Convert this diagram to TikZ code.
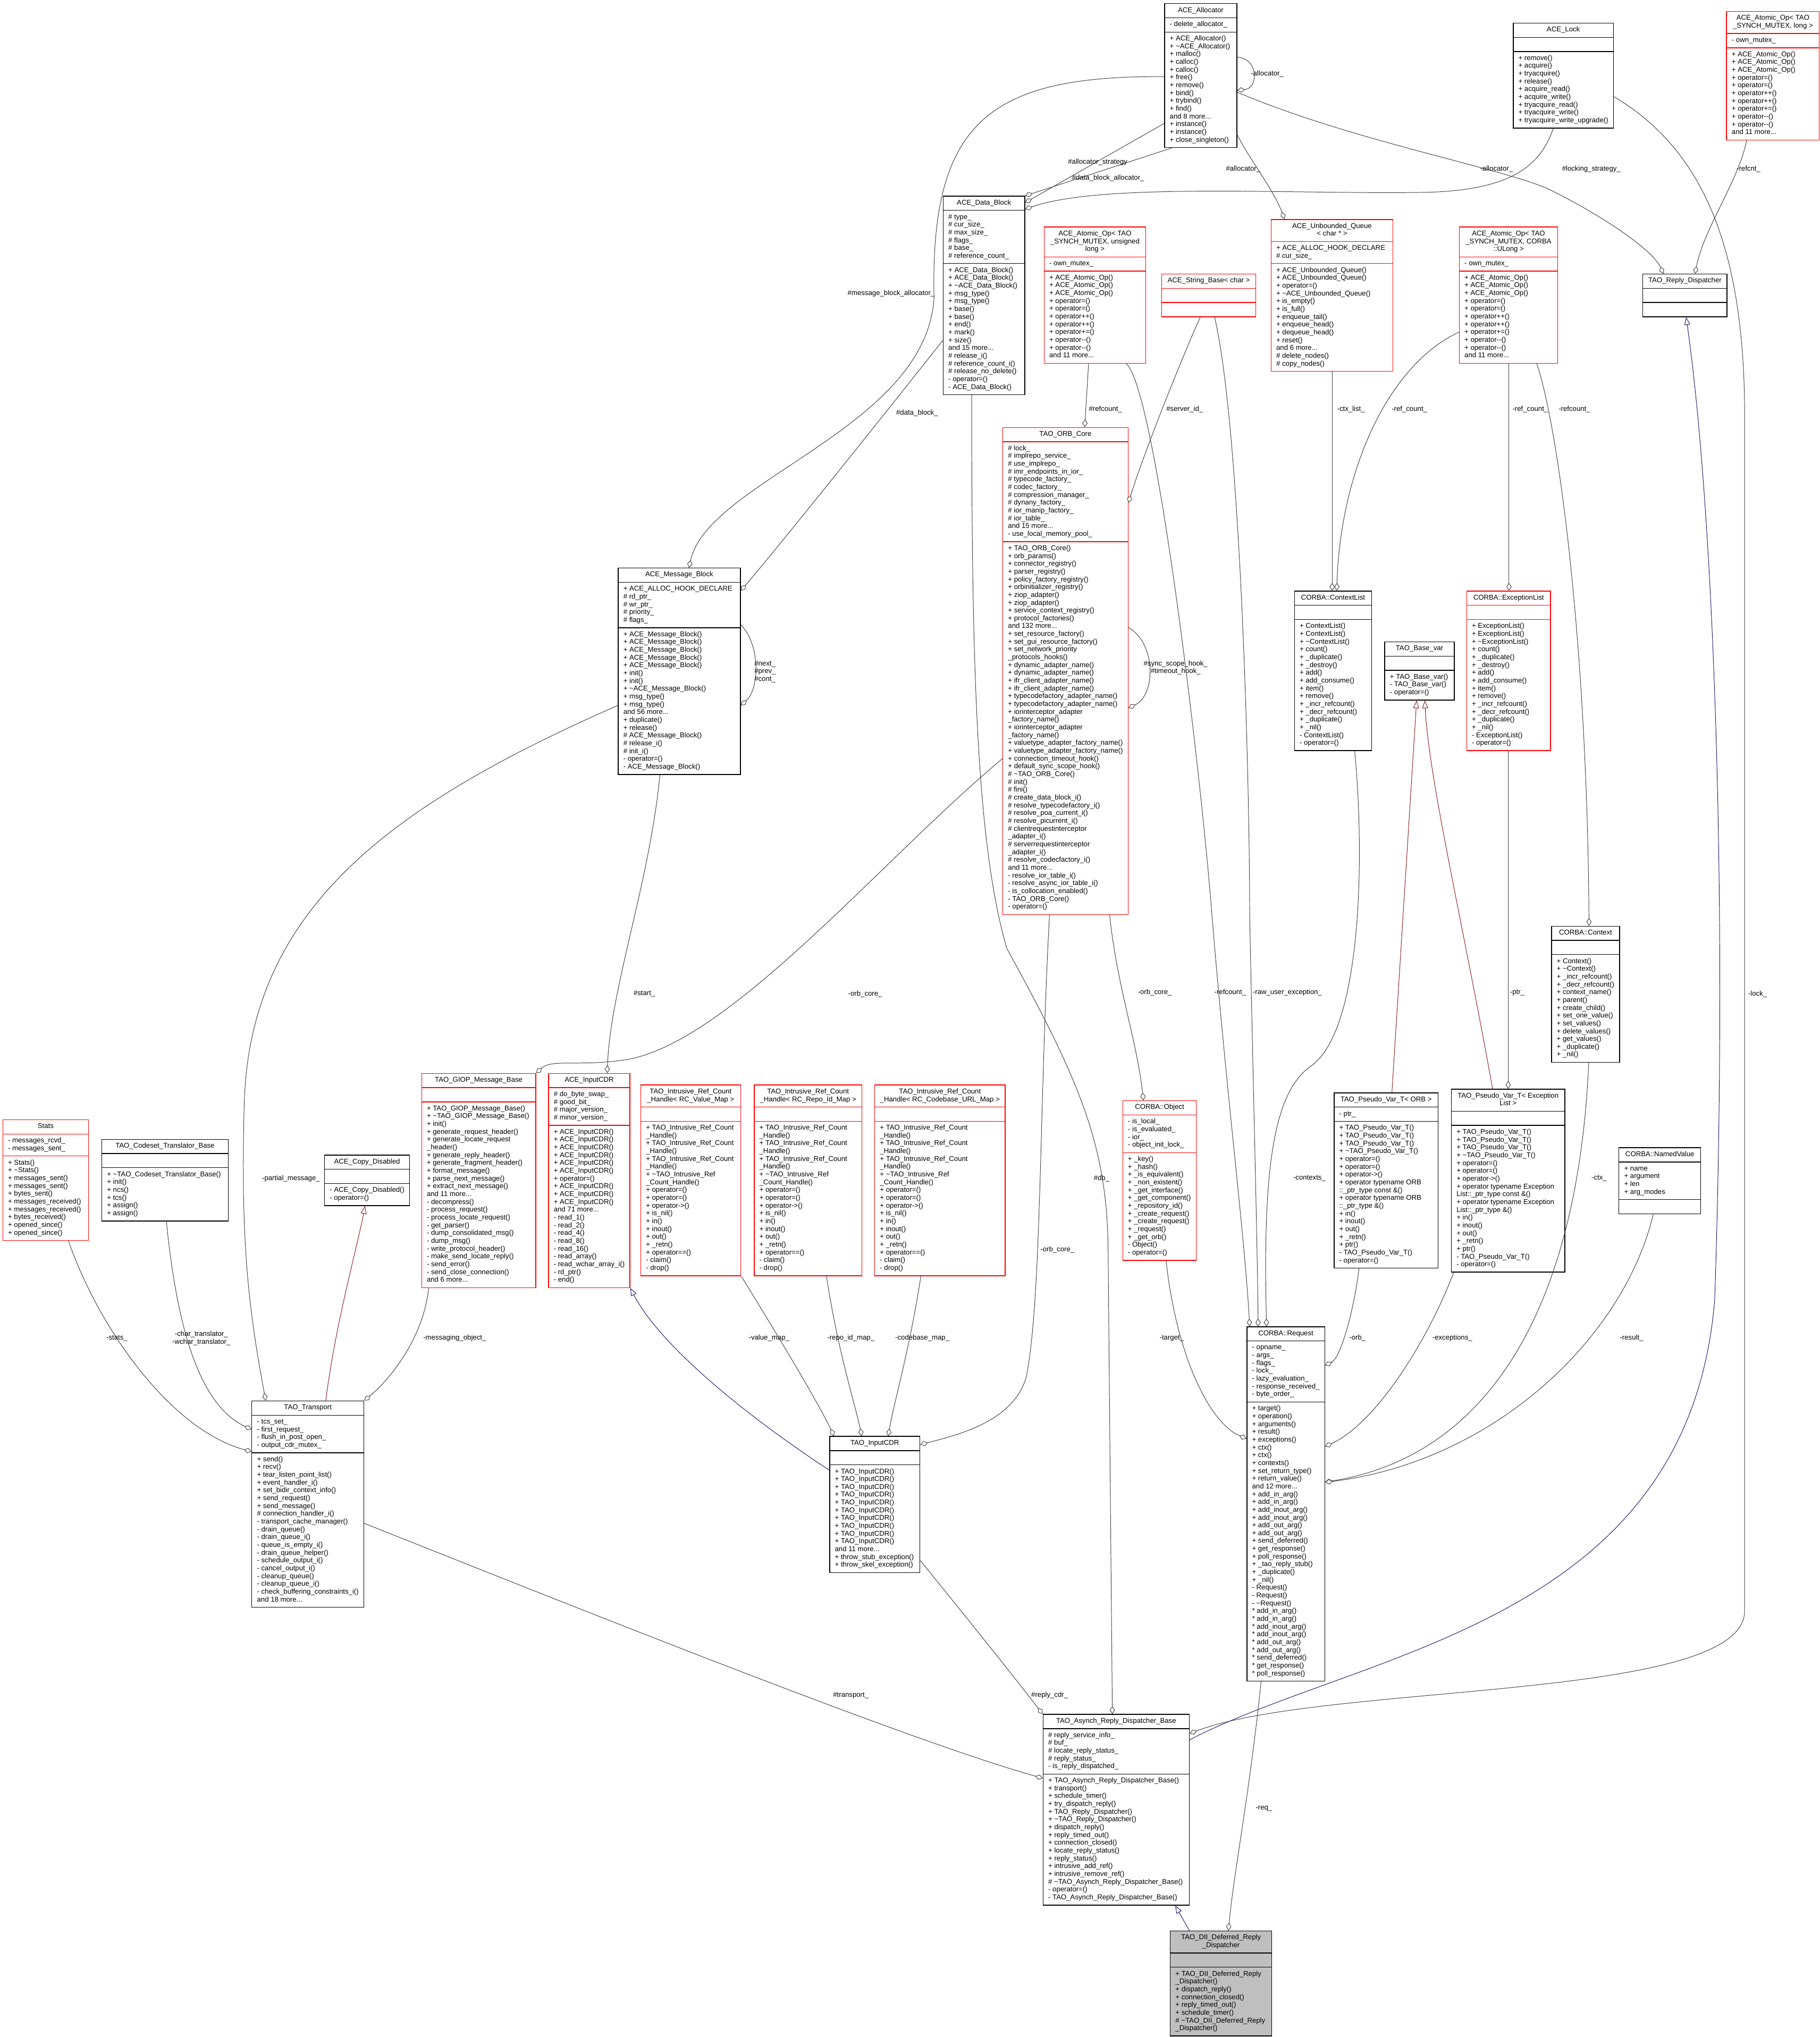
\documentclass[tikz,border=0pt]{standalone}
\usepackage{fontspec}
\setmainfont{Liberation Sans}
\usetikzlibrary{shapes.multipart,arrows.meta}
\definecolor{edgegray}{HTML}{404040}
\definecolor{inhblue}{HTML}{191970}
\definecolor{inhred}{HTML}{8B1A1A}
\definecolor{boxred}{HTML}{FF0000}
\definecolor{diigray}{HTML}{BFBFBF}
\newcommand\fs{\fontsize{5.4}{6}\selectfont}
\newcommand\TL[1]{\begin{tabular}{@{}l@{}}#1\end{tabular}}
\newcommand\TC[1]{\begin{tabular}{@{}c@{}}#1\end{tabular}}
\newcommand\tld{\textasciitilde}
\newcommand\cls[7][]{\node[cls,#1,minimum width=#4pt] (#2) at (#3) {\TC{\strut #5}\nodepart{second}\TL{\strut #6}\nodepart{third}\TL{\strut #7}};}
\tikzset{
  cls/.style={rectangle split, rectangle split parts=3, rectangle split part align={center,left,left},
    draw=black, line width=0.55pt, inner xsep=4pt, inner ysep=2.2pt, anchor=north west, font=\fs, fill=white},
  redbox/.style={draw=boxred},
  diibox/.style={fill=diigray},
  agg/.style={draw=edgegray, line width=0.4pt, -{Diamond[fill=white,length=6pt,width=4pt]}},
  inhb/.style={draw=inhblue, line width=0.4pt, -{Triangle[fill=white,length=6pt,width=4.5pt]}},
  inhr/.style={draw=inhred, line width=0.4pt, -{Triangle[fill=white,length=6pt,width=4.5pt]}},
  lbl/.style={font=\fs, inner sep=0pt, align=center}
}
\begin{document}
\catcode`\_=12
\begin{tikzpicture}[x=1pt,y=-1pt]
\fill[white] (0,0) rectangle (1401,1568);
\useasboundingbox (0,0) rectangle (1401,1568);

% ---------------- classes ----------------
\cls{alloc}{896.2,2.5}{55.7}{ACE_Allocator}{- delete_allocator_}{+ ACE_Allocator()\\+ \tld{}ACE_Allocator()\\+ malloc()\\+ calloc()\\+ calloc()\\+ free()\\+ remove()\\+ bind()\\+ trybind()\\+ find()\\and 8 more...\\+ instance()\\+ instance()\\+ close_singleton()}

\cls{lock}{1164.6,17.5}{76.9}{ACE_Lock}{}{+ remove()\\+ acquire()\\+ tryacquire()\\+ release()\\+ acquire_read()\\+ acquire_write()\\+ tryacquire_read()\\+ tryacquire_write()\\+ tryacquire_write_upgrade()}

\cls[redbox]{atomlong}{1328.8,8.6}{71.4}{ACE_Atomic_Op< TAO\\_SYNCH_MUTEX, long >}{- own_mutex_}{+ ACE_Atomic_Op()\\+ ACE_Atomic_Op()\\+ ACE_Atomic_Op()\\+ operator=()\\+ operator=()\\+ operator++()\\+ operator++()\\+ operator+=()\\+ operator-{}-()\\+ operator-{}-()\\and 11 more...}

\cls{datablock}{725.8,150.7}{62.8}{ACE_Data_Block}{\# type_\\\# cur_size_\\\# max_size_\\\# flags_\\\# base_\\\# reference_count_}{+ ACE_Data_Block()\\+ ACE_Data_Block()\\+ \tld{}ACE_Data_Block()\\+ msg_type()\\+ msg_type()\\+ base()\\+ base()\\+ end()\\+ mark()\\+ size()\\and 15 more...\\\# release_i()\\\# reference_count_i()\\\# release_no_delete()\\- operator=()\\- ACE_Data_Block()}

\cls[redbox]{atomul}{803.5,174.5}{78.2}{ACE_Atomic_Op< TAO\\_SYNCH_MUTEX, unsigned\\ long >}{- own_mutex_}{+ ACE_Atomic_Op()\\+ ACE_Atomic_Op()\\+ ACE_Atomic_Op()\\+ operator=()\\+ operator=()\\+ operator++()\\+ operator++()\\+ operator+=()\\+ operator-{}-()\\+ operator-{}-()\\and 11 more...}

\cls[redbox]{strbase}{893.9,210.7}{72.6}{ACE_String_Base< char >}{}{}

\cls[redbox]{uqueue}{978.2,168.7}{93.8}{ACE_Unbounded_Queue\\< char * >}{+ ACE_ALLOC_HOOK_DECLARE\\\# cur_size_}{+ ACE_Unbounded_Queue()\\+ ACE_Unbounded_Queue()\\+ operator=()\\+ \tld{}ACE_Unbounded_Queue()\\+ is_empty()\\+ is_full()\\+ enqueue_tail()\\+ enqueue_head()\\+ dequeue_head()\\+ reset()\\and 6 more...\\\# delete_nodes()\\\# copy_nodes()}

\cls[redbox]{atomulong}{1123.1,174.5}{75.8}{ACE_Atomic_Op< TAO\\_SYNCH_MUTEX, CORBA\\::ULong >}{- own_mutex_}{+ ACE_Atomic_Op()\\+ ACE_Atomic_Op()\\+ ACE_Atomic_Op()\\+ operator=()\\+ operator=()\\+ operator++()\\+ operator++()\\+ operator+=()\\+ operator-{}-()\\+ operator-{}-()\\and 11 more...}

\cls{replydisp}{1264.4,210.7}{64.8}{TAO_Reply_Dispatcher}{}{}

\cls[redbox]{orbcore}{771.7,328.8}{95.8}{TAO_ORB_Core}{\# lock_\\\# implrepo_service_\\\# use_implrepo_\\\# imr_endpoints_in_ior_\\\# typecode_factory_\\\# codec_factory_\\\# compression_manager_\\\# dynany_factory_\\\# ior_manip_factory_\\\# ior_table_\\and 15 more...\\- use_local_memory_pool_}{+ TAO_ORB_Core()\\+ orb_params()\\+ connector_registry()\\+ parser_registry()\\+ policy_factory_registry()\\+ orbinitializer_registry()\\+ ziop_adapter()\\+ ziop_adapter()\\+ service_context_registry()\\+ protocol_factories()\\and 132 more...\\+ set_resource_factory()\\+ set_gui_resource_factory()\\+ set_network_priority\\_protocols_hooks()\\+ dynamic_adapter_name()\\+ dynamic_adapter_name()\\+ ifr_client_adapter_name()\\+ ifr_client_adapter_name()\\+ typecodefactory_adapter_name()\\+ typecodefactory_adapter_name()\\+ iorinterceptor_adapter\\_factory_name()\\+ iorinterceptor_adapter\\_factory_name()\\+ valuetype_adapter_factory_name()\\+ valuetype_adapter_factory_name()\\+ connection_timeout_hook()\\+ default_sync_scope_hook()\\\# \tld{}TAO_ORB_Core()\\\# init()\\\# fini()\\\# create_data_block_i()\\\# resolve_typecodefactory_i()\\\# resolve_poa_current_i()\\\# resolve_picurrent_i()\\\# clientrequestinterceptor\\_adapter_i()\\\# serverrequestinterceptor\\_adapter_i()\\\# resolve_codecfactory_i()\\and 11 more...\\- resolve_ior_table_i()\\- resolve_async_ior_table_i()\\- is_collocation_enabled()\\- TAO_ORB_Core()\\- operator=()}

\cls{msgblock}{475.6,437}{94.1}{ACE_Message_Block}{+ ACE_ALLOC_HOOK_DECLARE\\\# rd_ptr_\\\# wr_ptr_\\\# priority_\\\# flags_}{+ ACE_Message_Block()\\+ ACE_Message_Block()\\+ ACE_Message_Block()\\+ ACE_Message_Block()\\+ ACE_Message_Block()\\+ init()\\+ init()\\+ \tld{}ACE_Message_Block()\\+ msg_type()\\+ msg_type()\\and 56 more...\\+ duplicate()\\+ release()\\\# ACE_Message_Block()\\\# release_i()\\\# init_i()\\- operator=()\\- ACE_Message_Block()}

\cls{ctxlist}{996.2,454.7}{59.4}{CORBA::ContextList}{}{+ ContextList()\\+ ContextList()\\+ \tld{}ContextList()\\+ count()\\+ _duplicate()\\+ _destroy()\\+ add()\\+ add_consume()\\+ item()\\+ remove()\\+ _incr_refcount()\\+ _decr_refcount()\\+ _duplicate()\\+ _nil()\\- ContextList()\\- operator=()}

\cls{basevar}{1065.7,493.8}{53.5}{TAO_Base_var}{}{+ TAO_Base_var()\\- TAO_Base_var()\\- operator=()}

\cls[redbox]{exclist}{1128.8,454.7}{64.5}{CORBA::ExceptionList}{}{+ ExceptionList()\\+ ExceptionList()\\+ \tld{}ExceptionList()\\+ count()\\+ _duplicate()\\+ _destroy()\\+ add()\\+ add_consume()\\+ item()\\+ remove()\\+ _incr_refcount()\\+ _decr_refcount()\\+ _duplicate()\\+ _nil()\\- ExceptionList()\\- operator=()}

\cls{context}{1194.1,712.6}{52.4}{CORBA::Context}{}{+ Context()\\+ \tld{}Context()\\+ _incr_refcount()\\+ _decr_refcount()\\+ context_name()\\+ parent()\\+ create_child()\\+ set_one_value()\\+ set_values()\\+ delete_values()\\+ get_values()\\+ _duplicate()\\+ _nil()}

\cls[redbox]{stats}{1.9,861.7}{66}{Stats}{- messages_rcvd_\\- messages_sent_}{+ Stats()\\+ \tld{}Stats()\\+ messages_sent()\\+ messages_sent()\\+ bytes_sent()\\+ messages_received()\\+ messages_received()\\+ bytes_received()\\+ opened_since()\\+ opened_since()}

\cls{codeset}{78.1,876.7}{97.3}{TAO_Codeset_Translator_Base}{}{+ \tld{}TAO_Codeset_Translator_Base()\\+ init()\\+ ncs()\\+ tcs()\\+ assign()\\+ assign()}

\cls{copydis}{249.5,888.9}{65.5}{ACE_Copy_Disabled}{}{- ACE_Copy_Disabled()\\- operator=()}

\cls[redbox]{giop}{324.3,826}{87.9}{TAO_GIOP_Message_Base}{}{+ TAO_GIOP_Message_Base()\\+ \tld{}TAO_GIOP_Message_Base()\\+ init()\\+ generate_request_header()\\+ generate_locate_request\\_header()\\+ generate_reply_header()\\+ generate_fragment_header()\\+ format_message()\\+ parse_next_message()\\+ extract_next_message()\\and 11 more...\\- decompress()\\- process_request()\\- process_locate_request()\\- get_parser()\\- dump_consolidated_msg()\\- dump_msg()\\- write_protocol_header()\\- make_send_locate_reply()\\- send_error()\\- send_close_connection()\\and 6 more...}

\cls[redbox]{inputcdr}{422,826}{61.4}{ACE_InputCDR}{\# do_byte_swap_\\\# good_bit_\\\# major_version_\\\# minor_version_}{+ ACE_InputCDR()\\+ ACE_InputCDR()\\+ ACE_InputCDR()\\+ ACE_InputCDR()\\+ ACE_InputCDR()\\+ ACE_InputCDR()\\+ operator=()\\+ ACE_InputCDR()\\+ ACE_InputCDR()\\+ ACE_InputCDR()\\and 71 more...\\- read_1()\\- read_2()\\- read_4()\\- read_8()\\- read_16()\\- read_array()\\- read_wchar_array_i()\\- rd_ptr()\\- end()}

\cls[redbox]{rcvalue}{493,834.9}{76.8}{TAO_Intrusive_Ref_Count\\_Handle< RC_Value_Map >}{}{+ TAO_Intrusive_Ref_Count\\_Handle()\\+ TAO_Intrusive_Ref_Count\\_Handle()\\+ TAO_Intrusive_Ref_Count\\_Handle()\\+ \tld{}TAO_Intrusive_Ref\\_Count_Handle()\\+ operator=()\\+ operator=()\\+ operator->()\\+ is_nil()\\+ in()\\+ inout()\\+ out()\\+ _retn()\\+ operator==()\\- claim()\\- drop()}

\cls[redbox]{rcrepo}{580.3,834.9}{82.9}{TAO_Intrusive_Ref_Count\\_Handle< RC_Repo_Id_Map >}{}{+ TAO_Intrusive_Ref_Count\\_Handle()\\+ TAO_Intrusive_Ref_Count\\_Handle()\\+ TAO_Intrusive_Ref_Count\\_Handle()\\+ \tld{}TAO_Intrusive_Ref\\_Count_Handle()\\+ operator=()\\+ operator=()\\+ operator->()\\+ is_nil()\\+ in()\\+ inout()\\+ out()\\+ _retn()\\+ operator==()\\- claim()\\- drop()}

\cls[redbox]{rccode}{673.1,834.9}{100.4}{TAO_Intrusive_Ref_Count\\_Handle< RC_Codebase_URL_Map >}{}{+ TAO_Intrusive_Ref_Count\\_Handle()\\+ TAO_Intrusive_Ref_Count\\_Handle()\\+ TAO_Intrusive_Ref_Count\\_Handle()\\+ \tld{}TAO_Intrusive_Ref\\_Count_Handle()\\+ operator=()\\+ operator=()\\+ operator->()\\+ is_nil()\\+ in()\\+ inout()\\+ out()\\+ _retn()\\+ operator==()\\- claim()\\- drop()}

\cls[redbox]{object}{864,847}{56.7}{CORBA::Object}{- is_local_\\- is_evaluated_\\- ior_\\- object_init_lock_}{+ _key()\\+ _hash()\\+ _is_equivalent()\\+ _non_existent()\\+ _get_interface()\\+ _get_component()\\+ _repository_id()\\+ _create_request()\\+ _create_request()\\+ _request()\\+ _get_orb()\\- Object()\\- operator=()}

\cls{pvorb}{1026.7,841}{80.1}{TAO_Pseudo_Var_T< ORB >}{- ptr_}{+ TAO_Pseudo_Var_T()\\+ TAO_Pseudo_Var_T()\\+ TAO_Pseudo_Var_T()\\+ \tld{}TAO_Pseudo_Var_T()\\+ operator=()\\+ operator=()\\+ operator->()\\+ operator typename ORB\\::_ptr_type const \&()\\+ operator typename ORB\\::_ptr_type \&()\\+ in()\\+ inout()\\+ out()\\+ _retn()\\+ ptr()\\- TAO_Pseudo_Var_T()\\- operator=()}

\cls{pvexc}{1117,838.1}{87.3}{TAO_Pseudo_Var_T< Exception\\List >}{}{+ TAO_Pseudo_Var_T()\\+ TAO_Pseudo_Var_T()\\+ TAO_Pseudo_Var_T()\\+ \tld{}TAO_Pseudo_Var_T()\\+ operator=()\\+ operator=()\\+ operator->()\\+ operator typename Exception\\List::_ptr_type const \&()\\+ operator typename Exception\\List::_ptr_type \&()\\+ in()\\+ inout()\\+ out()\\+ _retn()\\+ ptr()\\- TAO_Pseudo_Var_T()\\- operator=()}

\cls{namedval}{1246,883.2}{63}{CORBA::NamedValue}{+ name\\+ argument\\+ len\\+ arg_modes}{}

\cls{transport}{193.6,1078.1}{86.2}{TAO_Transport}{- tcs_set_\\- first_request_\\- flush_in_post_open_\\- output_cdr_mutex_}{+ send()\\+ recv()\\+ tear_listen_point_list()\\+ event_handler_i()\\+ set_bidir_context_info()\\+ send_request()\\+ send_message()\\\# connection_handler_i()\\- transport_cache_manager()\\- drain_queue()\\- drain_queue_i()\\- queue_is_empty_i()\\- drain_queue_helper()\\- schedule_output_i()\\- cancel_output_i()\\- cleanup_queue()\\- cleanup_queue_i()\\- check_buffering_constraints_i()\\and 18 more...}

\cls{taoinput}{638.4,1105.4}{69.5}{TAO_InputCDR}{}{+ TAO_InputCDR()\\+ TAO_InputCDR()\\+ TAO_InputCDR()\\+ TAO_InputCDR()\\+ TAO_InputCDR()\\+ TAO_InputCDR()\\+ TAO_InputCDR()\\+ TAO_InputCDR()\\+ TAO_InputCDR()\\+ TAO_InputCDR()\\and 11 more...\\+ throw_stub_exception()\\+ throw_skel_exception()}

\cls{request}{959.6,1021}{59.6}{CORBA::Request}{- opname_\\- args_\\- flags_\\- lock_\\- lazy_evaluation_\\- response_received_\\- byte_order_}{+ target()\\+ operation()\\+ arguments()\\+ result()\\+ exceptions()\\+ ctx()\\+ ctx()\\+ contexts()\\+ set_return_type()\\+ return_value()\\and 12 more...\\+ add_in_arg()\\+ add_in_arg()\\+ add_inout_arg()\\+ add_inout_arg()\\+ add_out_arg()\\+ add_out_arg()\\+ send_deferred()\\+ get_response()\\+ poll_response()\\+ _tao_reply_stub()\\+ _duplicate()\\+ _nil()\\- Request()\\- Request()\\- \tld{}Request()\\{}* add_in_arg()\\{}* add_in_arg()\\{}* add_inout_arg()\\{}* add_inout_arg()\\{}* add_out_arg()\\{}* add_out_arg()\\{}* send_deferred()\\{}* get_response()\\{}* poll_response()}

\cls{asynch}{802.7,1319.4}{112.5}{TAO_Asynch_Reply_Dispatcher_Base}{\# reply_service_info_\\\# buf_\\\# locate_reply_status_\\\# reply_status_\\- is_reply_dispatched_}{+ TAO_Asynch_Reply_Dispatcher_Base()\\+ transport()\\+ schedule_timer()\\+ try_dispatch_reply()\\+ TAO_Reply_Dispatcher()\\+ \tld{}TAO_Reply_Dispatcher()\\+ dispatch_reply()\\+ reply_timed_out()\\+ connection_closed()\\+ locate_reply_status()\\+ reply_status()\\+ intrusive_add_ref()\\+ intrusive_remove_ref()\\\# \tld{}TAO_Asynch_Reply_Dispatcher_Base()\\- operator=()\\- TAO_Asynch_Reply_Dispatcher_Base()}

\cls[diibox]{dii}{900.6,1486.1}{78.1}{TAO_DII_Deferred_Reply\\_Dispatcher}{}{+ TAO_DII_Deferred_Reply\\_Dispatcher()\\+ dispatch_reply()\\+ connection_closed()\\+ reply_timed_out()\\+ schedule_timer()\\\# \tld{}TAO_DII_Deferred_Reply\\_Dispatcher()}

% ---------------- connectors ----------------
\draw[agg] (alloc.east |- 0,44) .. controls (969,45) and (969,68) .. (alloc.east |- 0,69.5);
\draw[agg] (alloc.east |- 0,71) .. controls (1040,108) and (1150,128) .. (1191,145) .. controls (1232,165) and (1272,192) .. (replydisp.north -| 1280.5,0);
\draw[agg] (alloc.west |- 0,95) -- (datablock.east |- 0,156);
\draw[agg] (alloc.south -| 902,0) -- (datablock.north east);
\draw[agg] (lock.south -| 1195.7,0) .. controls (1185,130) and (1160,146) .. (1100,148) .. controls (1000,150) and (850,140) .. (datablock.east |- 0,161);
\draw[agg] (alloc.east |- 0,103.6) .. controls (960,120) and (980,145) .. (uqueue.north -| 988.8,0);
\draw[agg] (atomlong.south -| 1344.6,0) .. controls (1338,140) and (1312,175) .. (replydisp.north -| 1304.8,0);
\draw[agg] (lock.east |- 0,74.3) .. controls (1305,112) and (1343,180) .. (1343,320) -- (1343,1240) .. controls (1343,1310) and (1020,1295) .. (asynch.east |- 0,1334.4);
\draw[inhb] (asynch.east |- 0,1339.2) .. controls (1050,1270) and (1300,1250) .. (1320,1000) .. controls (1330,700) and (1320,400) .. (replydisp.south -| 1298,0);
\draw[agg] (datablock.west |- 0,262) .. controls (680,320) and (600,420) .. (msgblock.east |- 0,454.7);
\draw[agg] (alloc.west |- 0,59) .. controls (760,58) and (716,95) .. (719,230) .. controls (712,330) and (545,370) .. (msgblock.north -| 530.4,0);
\draw[agg] (atomul.south -| 838,0) -- (orbcore.north -| 835,0);
\draw[agg] (strbase.south -| 924,0) .. controls (912,270) and (880,350) .. (orbcore.east |- 0,387);
\draw[agg] (orbcore.east |- 0,483) .. controls (890,495) and (890,535) .. (orbcore.east |- 0,545);
\draw[agg] (msgblock.east |- 0,481) .. controls (585,495) and (585,530) .. (msgblock.east |- 0,543);
\draw[agg] (msgblock.south -| 508,0) .. controls (500,680) and (470,760) .. (inputcdr.north -| 467.4,0);
\draw[agg] (orbcore.west |- 0,584) .. controls (680,660) and (560,805) .. (480,816) .. controls (445,821) and (425,815) .. (giop.north east);
\draw[agg] (orbcore.south -| 854.2,0) .. controls (860,760) and (875,800) .. (object.north -| 880.2,0);
\draw[agg] (orbcore.south -| 807.9,0) .. controls (800,850) and (802,1000) .. (790,1060) .. controls (780,1095) and (735,1105) .. (taoinput.east |- 0,1112);
\draw[agg] (datablock.south -| 748,0) .. controls (748,520) and (752,650) .. (775,730) .. controls (830,830) and (852,880) .. (853,960) -- (asynch.north -| 856.3,0);
\draw[agg] (msgblock.west |- 0,543) .. controls (300,620) and (192,700) .. (188,850) .. controls (185,960) and (192,1010) .. (transport.north -| 204.5,0);
\draw[agg] (stats.south -| 52.7,0) .. controls (75,1020) and (130,1100) .. (transport.west |- 0,1117.4);
\draw[agg] (codeset.south -| 128.1,0) .. controls (135,1010) and (150,1080) .. (transport.west |- 0,1100.3);
\draw[inhr] (transport.north -| 250.8,0) .. controls (258,1020) and (275,960) .. (copydis.south -| 281,0);
\draw[agg] (giop.south -| 330,0) .. controls (326,1030) and (300,1062) .. (transport.north east);
\draw[inhb] (taoinput.west |- 0,1131.7) .. controls (560,1080) and (505,1030) .. (inputcdr.south east);
\draw[agg] (rcvalue.south -| 570.6,0) .. controls (600,1030) and (630,1080) .. (taoinput.north -| 642,0);
\draw[agg] (rcrepo.south -| 636.2,0) .. controls (645,1040) and (658,1080) .. (taoinput.north -| 663.4,0);
\draw[agg] (rccode.south -| 708.9,0) .. controls (700,1040) and (688,1080) .. (taoinput.north -| 683.8,0);
\draw[inhr] (pvorb.north -| 1071.5,0) -- (basevar.south -| 1090.5,0);
\draw[inhr] (pvexc.north -| 1149,0) .. controls (1125,705) and (1100,600) .. (basevar.south -| 1096.8,0);
\draw[agg] (exclist.south -| 1161,0) -- (pvexc.north -| 1161,0);
\draw[agg] (uqueue.south -| 1025.5,0) -- (ctxlist.north -| 1025.5,0);
\draw[agg] (atomulong.west |- 0,255.7) .. controls (1070,280) and (1032,360) .. (ctxlist.north -| 1029,0);
\draw[agg] (atomulong.south -| 1161.6,0) -- (exclist.north -| 1161.6,0);
\draw[agg] (atomulong.south -| 1183,0) .. controls (1200,330) and (1222,500) .. (context.north -| 1223.2,0);
\draw[agg] (ctxlist.south -| 1042.8,0) .. controls (1050,650) and (1050,790) .. (1010,820) .. controls (980,840) and (972,900) .. (request.north -| 975,0);
\draw[agg] (atomul.south -| 867,0) .. controls (890,300) and (925,600) .. (933,705) .. controls (945,850) and (958,950) .. (request.north -| 962,0);
\draw[agg] (strbase.south -| 935,0) .. controls (955,330) and (962,600) .. (962,705) .. controls (965,850) and (968,960) .. (request.north -| 968.5,0);
\draw[agg] (pvorb.south -| 1046.2,0) .. controls (1042,1010) and (1032,1045) .. (request.east |- 0,1051.2);
\draw[agg] (pvexc.south -| 1119,0) .. controls (1100,1030) and (1060,1095) .. (request.east |- 0,1113.5);
\draw[agg] (context.south -| 1223,0) .. controls (1215,1000) and (1150,1120) .. (request.east |- 0,1140.8);
\draw[agg] (namedval.south -| 1272.7,0) .. controls (1250,1030) and (1150,1125) .. (request.east |- 0,1141);
\draw[agg] (object.south -| 897.7,0) .. controls (905,1040) and (930,1095) .. (request.west |- 0,1107.4);
\draw[agg] (transport.east |- 0,1172.6) .. controls (450,1240) and (700,1340) .. (asynch.west |- 0,1368.8);
\draw[agg] (taoinput.east |- 0,1201.3) .. controls (740,1240) and (780,1290) .. (asynch.north west);
\draw[agg] (request.south -| 970.8,0) .. controls (962,1380) and (950,1440) .. (dii.north -| 945.6,0);
\draw[inhb] (dii.north -| 915.6,0) -- (asynch.south -| 904.7,0);

% ---------------- labels ----------------
\node[lbl] (l1) at (975.5,57) {-allocator_};
\node[lbl] (l2) at (1152,130) {-allocator_};
\node[lbl] (l3) at (845,125) {\#allocator_strategy};
\node[lbl] (l4) at (853,137) {\#data_block_allocator_};
\node[lbl] (l5) at (686,226) {\#message_block_allocator_};
\node[lbl] (l6) at (957,130) {\#allocator_};
\node[lbl] (l7) at (1225,130) {\#locking_strategy_};
\node[lbl] (l8) at (1346,130) {-refcnt_};
\node[lbl] (l9) at (1353,765) {-lock_};
\node[lbl] (l10) at (706,318) {\#data_block_};
\node[lbl] (l11) at (851,315) {\#refcount_};
\node[lbl] (l12) at (912,315) {\#server_id_};
\node[lbl] (l13) at (1040,315) {-ctx_list_};
\node[lbl] (l14) at (1085,315) {-ref_count_};
\node[lbl] (l15) at (1178,315) {-ref_count_};
\node[lbl] (l16) at (1212,315) {-refcount_};
\node[lbl] (l17) at (905,514) {\#sync_scope_hook_\\\#timeout_hook_};
\node[lbl,align=left] (l18) at (589,517) {\#next_\\\#prev_\\\#cont_};
\node[lbl] (l19) at (496,765) {\#start_};
\node[lbl] (l20) at (666,765) {-orb_core_};
\node[lbl] (l21) at (889,764) {-orb_core_};
\node[lbl] (l22) at (947,764) {-refcount_};
\node[lbl] (l23) at (991,764) {-raw_user_exception_};
\node[lbl] (l24) at (1168,764) {-ptr_};
\node[lbl] (l25) at (224,907) {-partial_message_};
\node[lbl] (l26) at (848,907) {\#db_};
\node[lbl] (l27) at (814,962) {-orb_core_};
\node[lbl] (l28) at (1008,907) {-contexts_};
\node[lbl] (l29) at (1231,907) {-ctx_};
\node[lbl] (l30) at (90,1030) {-stats_};
\node[lbl] (l31) at (155,1030) {-char_translator_\\-wchar_translator_};
\node[lbl] (l32) at (350,1030) {-messaging_object_};
\node[lbl] (l33) at (592,1030) {-value_map_};
\node[lbl] (l34) at (655,1030) {-repo_id_map_};
\node[lbl] (l35) at (710,1030) {-codebase_map_};
\node[lbl] (l36) at (902,1030) {-target_};
\node[lbl] (l37) at (1045,1030) {-orb_};
\node[lbl] (l38) at (1118,1030) {-exceptions_};
\node[lbl] (l39) at (1256,1030) {-result_};
\node[lbl] (l40) at (655,1305) {\#transport_};
\node[lbl] (l41) at (808,1305) {\#reply_cdr_};
\node[lbl] (l42) at (973,1392) {-req_};
\end{tikzpicture}
\end{document}
